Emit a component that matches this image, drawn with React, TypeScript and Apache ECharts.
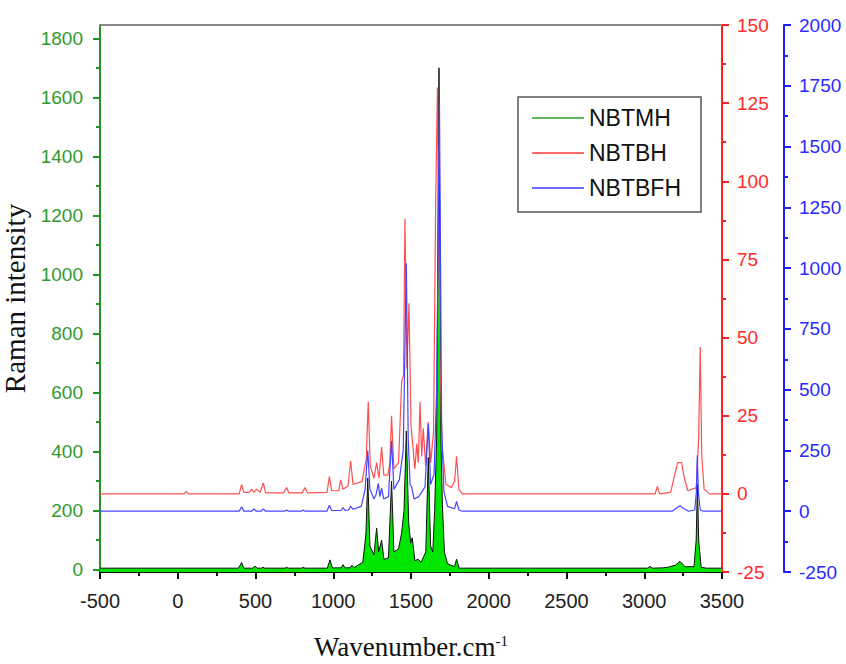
import React, { useEffect, useRef } from "react";
import * as echarts from "echarts";

// Wavenumber axis
const xMin = -500;
const xMax = 3500;
const xInterval = 500;

// Left (NBTMH) axis tick labels
const leftMajorTicks = [0, 200, 400, 600, 800, 1000, 1200, 1400, 1600, 1800];
const leftMinorTicks = [100, 300, 500, 700, 900, 1100, 1300, 1500, 1700];
const leftMin = -8;
const leftMax = 1845;

// Red (NBTBH) axis
const redMin = -25;
const redMax = 150;
const redInterval = 25;

// Blue (NBTBFH) axis
const blueMin = -250;
const blueMax = 2000;
const blueInterval = 250;

const seriesNames = ["NBTMH", "NBTBH", "NBTBFH"];

// NBTMH  [wavenumber, intensity] (left axis)
const nbtmh: [number, number][] = [
  [-500, 5], [390, 5], [411, 24], [425, 5], [482, 5], [497, 12], [510, 5], [538, 5], [548, 8], [560, 5],
  [690, 5], [700, 8], [712, 5], [796, 5], [806, 8], [818, 5], [962, 5], [979, 33], [995, 6],
  [1050, 6], [1063, 17], [1076, 6], [1108, 6], [1120, 15], [1134, 7],
  [1190, 25], [1210, 120], [1222, 310], [1236, 80], [1262, 50], [1279, 141], [1292, 60], [1311, 100], [1326, 35],
  [1355, 40], [1375, 300], [1390, 60], [1420, 70], [1440, 125], [1455, 200], [1470, 470], [1485, 160], [1498, 90],
  [1508, 108], [1525, 30], [1545, 35], [1565, 25], [1595, 60], [1611, 380], [1626, 80], [1640, 60], [1652, 200],
  [1665, 450], [1680, 1700], [1692, 450], [1702, 220], [1715, 60], [1735, 20], [1780, 10], [1793, 35], [1810, 5],
  [3020, 5], [3037, 11], [3052, 5], [3120, 6], [3150, 8], [3200, 15], [3230, 28], [3262, 10], [3320, 10],
  [3334, 100], [3342, 290], [3350, 100], [3366, 8], [3400, 5], [3500, 5],
];

// NBTBH  [wavenumber, intensity] (red axis)
const nbtbh: [number, number][] = [
  [-500, 0], [40, 0], [55, 0.8], [70, 0],
  [395, 0], [411, 3], [425, 0.5], [460, 0.5], [475, 1.5], [490, 0.5], [507, 1.5], [530, 0.5], [550, 3.5], [565, 0.3],
  [680, 0.3], [700, 2], [715, 0.3], [800, 0.3], [818, 2], [835, 0.3],
  [960, 0.5], [975, 5.5], [990, 1], [1035, 1], [1048, 4.5], [1062, 1.5], [1095, 2.5], [1112, 10.5], [1127, 3],
  [1185, 4], [1212, 11], [1225, 29.5], [1238, 9], [1262, 5], [1279, 10], [1294, 5], [1311, 15], [1325, 6],
  [1352, 6], [1364, 10], [1375, 25], [1390, 8], [1420, 10], [1440, 36], [1452, 38], [1461, 88], [1474, 40],
  [1487, 61], [1500, 22], [1525, 8], [1537, 16], [1547, 10], [1558, 29.5], [1569, 12], [1579, 21], [1594, 9],
  [1611, 23], [1627, 10], [1645, 20], [1658, 90], [1670, 130], [1684, 50], [1700, 15], [1725, 3], [1760, 2],
  [1780, 4], [1793, 12], [1808, 1.5], [1830, 0],
  [3070, 0], [3084, 2.4], [3098, 0], [3170, 0.5], [3195, 6], [3215, 10], [3240, 10], [3258, 5], [3280, 1],
  [3335, 2], [3350, 18], [3360, 47], [3370, 12], [3385, 1.5], [3420, 0], [3500, 0],
];

// NBTBFH  [wavenumber, intensity] (blue axis)
const nbtbfh: [number, number][] = [
  [-500, 0], [395, 0], [411, 18], [425, 0], [475, 0], [490, 10], [505, 0], [535, 0], [550, 10], [565, 0],
  [688, 0], [700, 5], [712, 0], [794, 0], [806, 5], [818, 0], [960, 0], [975, 25], [990, 3],
  [1050, 3], [1063, 15], [1076, 3], [1098, 5], [1112, 20], [1128, 8],
  [1180, 20], [1205, 90], [1222, 250], [1236, 90], [1262, 50], [1276, 70], [1290, 115], [1300, 60], [1311, 95],
  [1325, 50], [1355, 60], [1375, 290], [1390, 90], [1425, 130], [1450, 250], [1470, 1020], [1482, 300],
  [1494, 110], [1504, 100], [1520, 50], [1550, 60], [1590, 100], [1611, 360], [1626, 110], [1648, 150],
  [1665, 500], [1683, 1680], [1697, 350], [1712, 80], [1735, 20], [1780, 10], [1793, 40], [1808, 5], [1830, 0],
  [3180, 0], [3205, 12], [3230, 23], [3255, 10], [3285, 0], [3325, 5], [3335, 80], [3341, 230], [3348, 80],
  [3360, 5], [3380, 0], [3500, 0],
];

const sans = "'Liberation Sans', Arial, sans-serif";
const serif = "'Liberation Serif', 'Times New Roman', serif";

const GREEN_AXIS = "#239623";
const RED_AXIS = "#ff2020";
const BLUE_AXIS = "#1f1fff";

const plain = (v: number) => String(v);

export default function App() {
  const ref = useRef<HTMLDivElement>(null);

  useEffect(() => {
    if (!ref.current) return;
    const chart = echarts.init(ref.current, null, { renderer: "svg", width: 846, height: 664 });
    chart.setOption({
      animation: false,
      backgroundColor: "#ffffff",
      grid: { left: 100, right: 124, top: 25, bottom: 92, containLabel: false, outerBoundsMode: "none" },
      legend: {
        orient: "vertical",
        left: 518,
        top: 97,
        padding: [8, 20, 11, 14],
        borderColor: "#555",
        borderWidth: 1.5,
        itemGap: 9,
        icon: "rect",
        itemWidth: 52,
        itemHeight: 2,
        textStyle: { fontFamily: sans, fontSize: 23, color: "#111", lineHeight: 26 },
        data: [
          { name: seriesNames[0], itemStyle: { color: "#5cb85c" } },
          { name: seriesNames[1], itemStyle: { color: "#ff6b6b" } },
          { name: seriesNames[2], itemStyle: { color: "#6b6bff" } },
        ],
      },
      xAxis: [
        {
          type: "value",
          position: "bottom",
          min: xMin,
          max: xMax,
          interval: xInterval,
          axisLine: { show: true, onZero: false, lineStyle: { color: "#111", width: 2 } },
          axisTick: { show: true, length: 7, lineStyle: { color: "#111", width: 2 } },
          minorTick: { show: true, splitNumber: 2, length: 4, lineStyle: { color: "#111", width: 2 } },
          axisLabel: { color: "#222", fontSize: 20, fontFamily: sans, margin: 19, formatter: plain },
          splitLine: { show: false },
          minorSplitLine: { show: false },
          name: "{a|Wavenumber.cm}{b|-1}",
          nameLocation: "middle",
          nameGap: 61,
          nameTextStyle: {
            rich: {
              a: { fontFamily: serif, fontSize: 27, color: "#111", lineHeight: 28 },
              b: { fontFamily: serif, fontSize: 15, color: "#111", lineHeight: 28, verticalAlign: "top", padding: [0, 0, 12, 0] },
            },
          },
        },
        {
          type: "value",
          position: "top",
          min: xMin,
          max: xMax,
          axisLine: { show: true, onZero: false, lineStyle: { color: "#888", width: 2 } },
          axisTick: { show: false },
          axisLabel: { show: false },
          splitLine: { show: false },
        },
      ],
      yAxis: [
        {
          type: "value",
          position: "left",
          min: leftMin,
          max: leftMax,
          axisLine: { show: true, onZero: false, lineStyle: { color: GREEN_AXIS, width: 2 } },
          axisTick: { show: true, customValues: leftMajorTicks, length: 7, lineStyle: { color: GREEN_AXIS, width: 2 } },
          axisLabel: { customValues: leftMajorTicks, color: "#2f9a2f", fontSize: 19, fontFamily: sans, margin: 17, formatter: plain },
          splitLine: { show: false },
          name: "Raman intensity",
          nameLocation: "middle",
          nameGap: 59,
          nameTextStyle: { fontFamily: serif, fontSize: 29, color: "#111" },
        },
        {
          type: "value",
          position: "right",
          min: redMin,
          max: redMax,
          interval: redInterval,
          axisLine: { show: true, onZero: false, lineStyle: { color: RED_AXIS, width: 2 } },
          axisTick: { show: true, length: 7, lineStyle: { color: RED_AXIS, width: 2 } },
          minorTick: { show: true, splitNumber: 2, length: 4, lineStyle: { color: RED_AXIS, width: 2 } },
          axisLabel: { color: "#ff2a2a", fontSize: 19, fontFamily: sans, margin: 15, formatter: plain },
          splitLine: { show: false },
        },
        {
          type: "value",
          position: "right",
          offset: 62,
          min: blueMin,
          max: blueMax,
          interval: blueInterval,
          axisLine: { show: true, onZero: false, lineStyle: { color: BLUE_AXIS, width: 2 } },
          axisTick: { show: true, length: 7, lineStyle: { color: BLUE_AXIS, width: 2 } },
          minorTick: { show: true, splitNumber: 2, length: 4, lineStyle: { color: BLUE_AXIS, width: 2 } },
          axisLabel: { color: "#2a2aff", fontSize: 19, fontFamily: sans, margin: 15, formatter: plain },
          splitLine: { show: false },
        },
        {
          type: "value",
          position: "left",
          min: leftMin,
          max: leftMax,
          axisLine: { show: false, onZero: false },
          axisTick: { show: true, customValues: leftMinorTicks, length: 4, lineStyle: { color: GREEN_AXIS, width: 2 } },
          axisLabel: { show: false },
          splitLine: { show: false },
        },
      ],
      series: [
        {
          name: seriesNames[0],
          type: "line",
          xAxisIndex: 0,
          yAxisIndex: 0,
          data: nbtmh,
          symbol: "none",
          showSymbol: false,
          itemStyle: { color: "#5cb85c" },
          lineStyle: { color: "#111", width: 1 },
          areaStyle: { color: "#00e600", opacity: 1, origin: "start" },
          z: 2,
        },
        {
          name: seriesNames[1],
          type: "line",
          xAxisIndex: 0,
          yAxisIndex: 1,
          data: nbtbh,
          symbol: "none",
          showSymbol: false,
          itemStyle: { color: "#ff6b6b" },
          lineStyle: { color: "#ff5050", width: 1.2 },
          z: 3,
        },
        {
          name: seriesNames[2],
          type: "line",
          xAxisIndex: 0,
          yAxisIndex: 2,
          data: nbtbfh,
          symbol: "none",
          showSymbol: false,
          itemStyle: { color: "#6b6bff" },
          lineStyle: { color: "#4545ff", width: 1.2 },
          z: 4,
        },
      ],
    });
    return () => chart.dispose();
  }, []);

  return (
    <div
      ref={ref}
      style={{ position: "fixed", left: 0, top: 0, width: 846, height: 664, background: "#fff" }}
    />
  );
}
